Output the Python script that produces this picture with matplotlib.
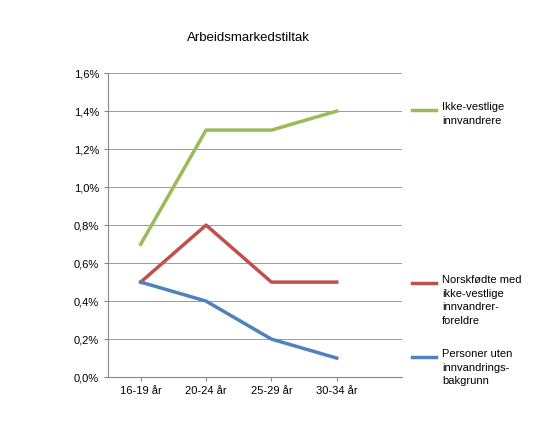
import matplotlib
matplotlib.use("Agg")
import matplotlib.pyplot as plt
from matplotlib.lines import Line2D

categories = ["16-19 år", "20-24 år", "25-29 år", "30-34 år"]
ikke_vestlige = [0.7, 1.3, 1.3, 1.4]
norskfodte = [0.5, 0.8, 0.5, 0.5]
uten_bakgrunn = [0.5, 0.4, 0.2, 0.1]
yticks = [0.0, 0.2, 0.4, 0.6, 0.8, 1.0, 1.2, 1.4, 1.6]

series = [
    (ikke_vestlige, "#9BBB59", "Ikke-vestlige\ninnvandrere", 110),
    (norskfodte, "#C0504D", "Norskfødte med\nikke-vestlige\ninnvandrer-\nforeldre", 283),
    (uten_bakgrunn, "#4F81BD", "Personer uten\ninnvandrings-\nbakgrunn", 357),
]

plt.rcParams["font.family"] = ["Liberation Sans", "DejaVu Sans"]
fig = plt.figure(figsize=(5.6, 4.3), dpi=100)
ax = fig.add_axes([0.193, 0.123, 0.525, 0.707])
x = list(range(len(categories)))
for vals, color, label, ypx in series:
    ax.plot(x, vals, color=color, lw=2.5)
    yf = 1 - ypx / 430
    fig.add_artist(Line2D([412 / 560, 436 / 560], [yf, yf], color=color, lw=2.5))
    fig.text(442 / 560, yf + 8 / 430, label, fontsize=8, va="top", linespacing=1.45)

ax.set_xlim(-0.5, 4.0)
ax.set_ylim(0, 1.6)
ax.set_yticks(yticks)
ax.set_yticklabels([f"{v:.1f}%".replace(".", ",") for v in yticks], fontsize=8)
ax.set_xticks(x)
ax.set_xticklabels(categories, fontsize=8)
ax.grid(axis="y", color="#9a9a9a", lw=0.7)
ax.set_axisbelow(True)
for s in ["top", "right"]:
    ax.spines[s].set_visible(False)
ax.spines["left"].set_color("#888888")
ax.spines["bottom"].set_color("#888888")
ax.tick_params(length=3, color="#888888")
fig.text(248 / 560, 1 - 38 / 430, "Arbeidsmarkedstiltak", fontsize=9.5, ha="center", va="center")
fig.savefig("out.png", dpi=100)
